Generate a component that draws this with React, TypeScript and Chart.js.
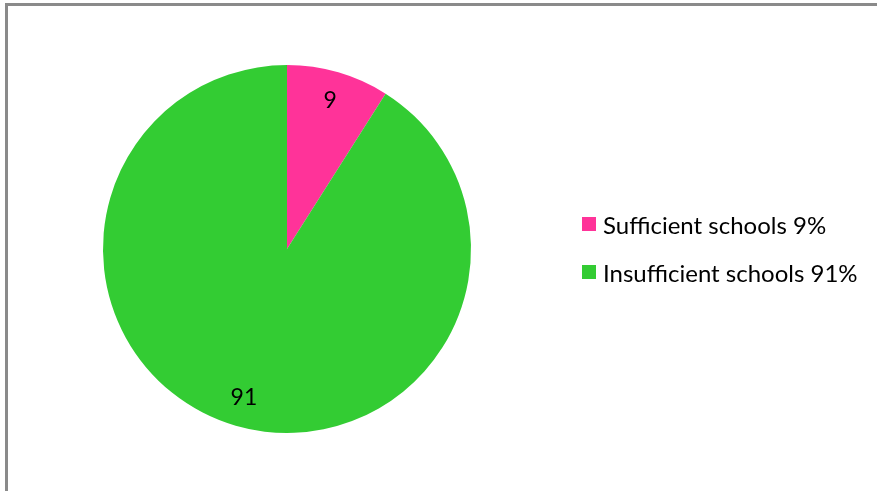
import React, { useEffect, useRef } from "react";
import { Chart, registerables } from "chart.js";

Chart.register(...registerables);

const categories = ["Sufficient schools", "Insufficient schools"];
const values = [9, 91];
const colors = ["#FF3399", "#33CC33"];
const legendLabels = ["Sufficient schools 9%", "Insufficient schools 91%"];

const FONT = "Lato, 'Open Sans', sans-serif";

const valueLabels = {
  id: "valueLabels",
  afterDatasetsDraw(chart: any) {
    const ctx = chart.ctx;
    const meta = chart.getDatasetMeta(0);
    ctx.save();
    ctx.fillStyle = "#000";
    ctx.font = `23px ${FONT}`;
    ctx.textAlign = "center";
    ctx.textBaseline = "middle";
    meta.data.forEach((arc: any, i: number) => {
      const { x, y, startAngle, endAngle, outerRadius } = arc.getProps(
        ["x", "y", "startAngle", "endAngle", "outerRadius"],
        true
      );
      const mid = (startAngle + endAngle) / 2;
      const r = outerRadius * 0.84;
      ctx.fillText(String(values[i]), x + Math.cos(mid) * r, y + Math.sin(mid) * r);
    });
    ctx.restore();
  },
};

export default function App() {
  const ref = useRef<HTMLCanvasElement>(null);
  useEffect(() => {
    if (!ref.current) return;
    const chart = new Chart(ref.current, {
      type: "pie",
      data: {
        labels: categories,
        datasets: [
          {
            data: values,
            backgroundColor: colors,
            borderWidth: 0,
          },
        ],
      },
      options: {
        animation: false,
        responsive: false,
        layout: { padding: { left: 103, right: 406, top: 65, bottom: 58 } },
        plugins: { legend: { display: false }, tooltip: { enabled: false } },
      },
      plugins: [valueLabels],
    });
    return () => chart.destroy();
  }, []);
  return (
    <div style={{ position: "fixed", left: 0, top: 0, width: 877, height: 491, background: "#fff", overflow: "hidden" }}>
      <div
        style={{
          position: "absolute",
          left: 5,
          top: 3,
          width: 1000,
          height: 1000,
          borderTop: "3px solid #8a8a8a",
          borderLeft: "3px solid #8a8a8a",
        }}
      />
      <canvas ref={ref} width={877} height={491} style={{ position: "absolute", left: 0, top: 0 }} />
      {legendLabels.map((t, i) => (
        <div
          key={t}
          style={{
            position: "absolute",
            left: 582,
            top: 224 + i * 48 - 15,
            height: 30,
            display: "flex",
            alignItems: "center",
            fontFamily: FONT,
            fontSize: 24,
            color: "#000",
            whiteSpace: "nowrap",
          }}
        >
          <span style={{ display: "inline-block", width: 14, height: 14, background: colors[i], marginRight: 7 }} />
          {t}
        </div>
      ))}
    </div>
  );
}
